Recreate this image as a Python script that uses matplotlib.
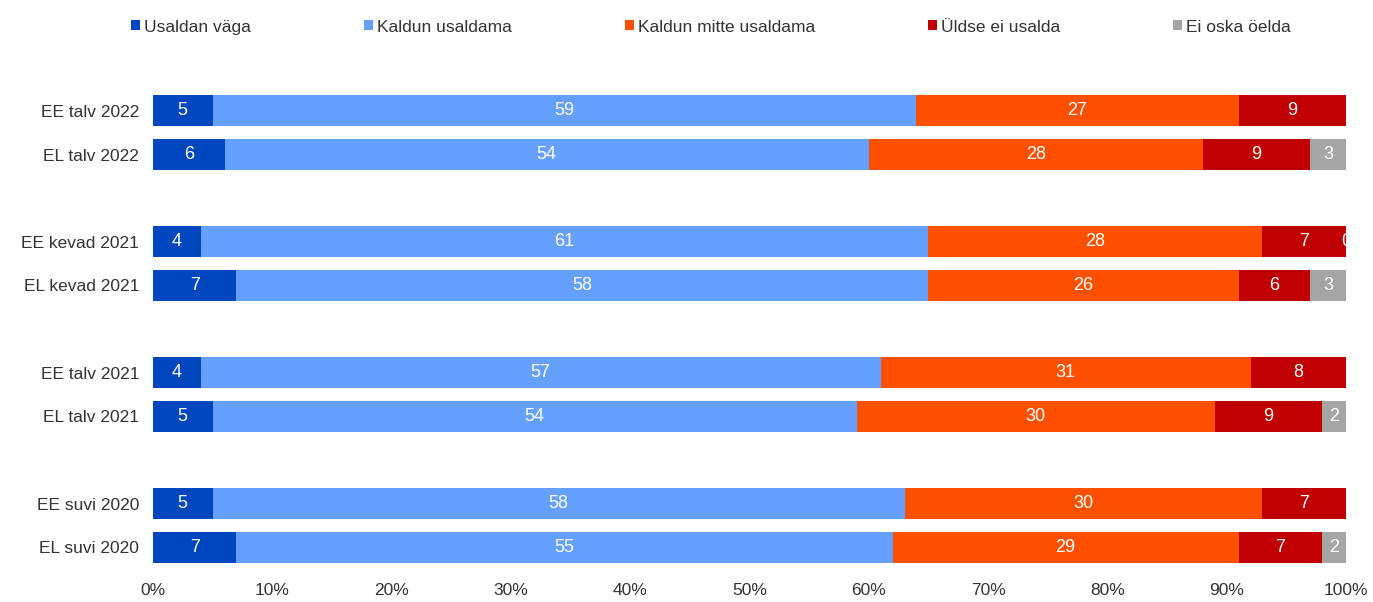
import numpy as np
import matplotlib
matplotlib.use("Agg")
from matplotlib import pyplot as plt

plt.rcParams['font.family'] = ['Liberation Sans', 'DejaVu Sans']

labels = ['EE talv 2022', 'EL talv 2022', 'EE kevad 2021', 'EL kevad 2021',
          'EE talv 2021', 'EL talv 2021', 'EE suvi 2020', 'EL suvi 2020']
series = ['Usaldan väga', 'Kaldun usaldama', 'Kaldun mitte usaldama',
          'Üldse ei usalda', 'Ei oska öelda']
usaldan_vaga = [5, 6, 4, 7, 4, 5, 5, 7]
kaldun_usaldama = [59, 54, 61, 58, 57, 54, 58, 55]
kaldun_mitte = [27, 28, 28, 26, 31, 30, 30, 29]
uldse_ei = [9, 9, 7, 6, 8, 9, 7, 7]
ei_oska = [None, 3, 0, 3, None, 2, None, 2]

colors = ['#0047BF', '#66A0FF', '#FF5000', '#C00000', '#A5A5A5']
txt = '#333333'

# positions with an empty slot between each pair
ypos = np.array([0, 1, 3, 4, 6, 7, 9, 10])

fig = plt.figure(figsize=(13.73, 6.02), dpi=100)
ax = fig.add_axes([0.1114, 0.0548, 0.8689, 0.7972])

data = [usaldan_vaga, kaldun_usaldama, kaldun_mitte, uldse_ei, ei_oska]
left = np.zeros(len(labels))
for name, vals, col in zip(series, data, colors):
    v = np.array([0 if x is None else x for x in vals], dtype=float)
    ax.barh(ypos, v, left=left, height=0.71, color=col, label=name)
    for i, x in enumerate(vals):
        if x is None:
            continue
        ax.text(left[i] + v[i] / 2, ypos[i], str(x), ha='center', va='center',
                color='white', fontsize=13, clip_on=True)
    left += v

ax.set_xlim(0, 100)
ax.set_ylim(10.5, -0.5)
ax.set_yticks(ypos)
ax.set_yticklabels(labels, fontsize=12.5, color=txt)
ax.set_xticks(np.arange(0, 101, 10))
ax.set_xticklabels([f'{t}%' for t in range(0, 101, 10)], fontsize=12.5, color=txt)
ax.tick_params(length=0, pad=10)
for s in ax.spines.values():
    s.set_visible(False)

leg = fig.legend(loc='center', bbox_to_anchor=(0.518, 0.955), ncol=5, frameon=False,
                 fontsize=12.5, handlelength=0.5, handleheight=0.5, handletextpad=0.25,
                 columnspacing=6.5)
for t in leg.get_texts():
    t.set_color(txt)

fig.savefig('out.png', dpi=100)
